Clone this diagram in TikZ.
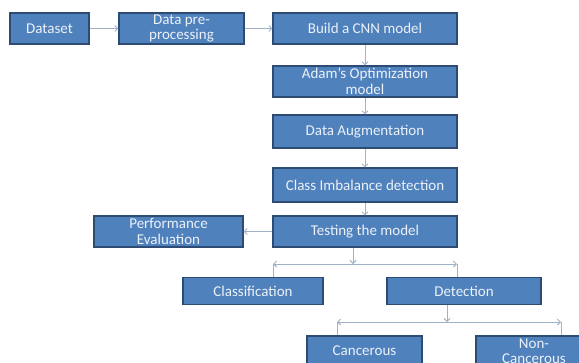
\documentclass[tikz,border=0pt]{standalone}
\usepackage{fontspec}
\setmainfont{Carlito}
\usetikzlibrary{arrows.meta,positioning}
\definecolor{boxblue}{RGB}{79,129,189}
\definecolor{boxedge}{RGB}{45,75,115}
\definecolor{linegray}{RGB}{160,178,200}
\definecolor{textwhite}{RGB}{236,241,248}

\begin{document}
\begin{tikzpicture}[
    x=1pt, y=-1pt,
    >={Straight Barb[length=3pt,width=6pt]},
    line width=0.8pt,
    box/.style={rectangle, draw=boxedge, fill=boxblue, text=textwhite, line width=1.1pt,
                inner sep=0pt, align=center, font=\fontsize{15}{15.5}\selectfont},
    link/.style={draw=linegray, line width=0.9pt}
]
  \useasboundingbox (0,0) rectangle (579,362);
  \clip (0,0) rectangle (579,362);

  % nodes
  \node[box, minimum width=79,  minimum height=31] (data) at (49.5,28.5)  {Dataset};
  \node[box, minimum width=125, minimum height=31] (prep) at (181.5,28.5) {Data pre-\\processing};
  \node[box, minimum width=184, minimum height=31] (cnn)  at (365,28.5)   {Build a CNN model};
  \node[box, minimum width=184, minimum height=31] (adam) at (365,81.5)   {Adam’s Optimization\\model};
  \node[box, minimum width=184, minimum height=33] (aug)  at (365,131.5)  {Data Augmentation};
  \node[box, minimum width=184, minimum height=34] (imb)  at (365,185)    {Class Imbalance detection};
  \node[box, minimum width=184, minimum height=31] (test) at (365,231.5)  {Testing the model};
  \node[box, minimum width=149, minimum height=31] (perf) at (168.5,231.5) {Performance\\Evaluation};
  \node[box, minimum width=140, minimum height=27] (cls)  at (253,291)    {Classification};
  \node[box, minimum width=154, minimum height=27] (det)  at (464,291)    {Detection};
  \node[box, minimum width=115, minimum height=30] (canc) at (364.5,351)  {Cancerous};
  \node[box, minimum width=116, minimum height=30] (nonc) at (534,351)    {Non-\\Cancerous};

  % branch points
  \coordinate (tb) at (353,264);
  \coordinate (tl) at (273,264);
  \coordinate (tr) at (457,264);
  \coordinate (db) at (447,322);
  \coordinate (dl) at (337,322);
  \coordinate (dr) at (561,322);

  % edges
  \draw[link,->] (data) -- (prep);
  \draw[link,->] (prep) -- (cnn);
  \draw[link,->] (cnn) -- (adam);
  \draw[link,->] (adam) -- (aug);
  \draw[link,->] (aug) -- (imb);
  \draw[link,->] (imb) -- (test);
  \draw[link,->] (test) -- (perf);
  \draw[link,->] (test.south -| tb) -- (tb);
  \draw[link,<->] (tl) -- (tr);
  \draw[link] (tl) -- (tl |- cls.north);
  \draw[link] (tr) -- (tr |- det.north);
  \draw[link,->] (det.south -| db) -- (db);
  \draw[link,<->] (dl) -- (dr);
  \draw[link] (dl) -- (dl |- canc.north);
  \draw[link] (dr) -- (dr |- nonc.north);
\end{tikzpicture}
\end{document}
